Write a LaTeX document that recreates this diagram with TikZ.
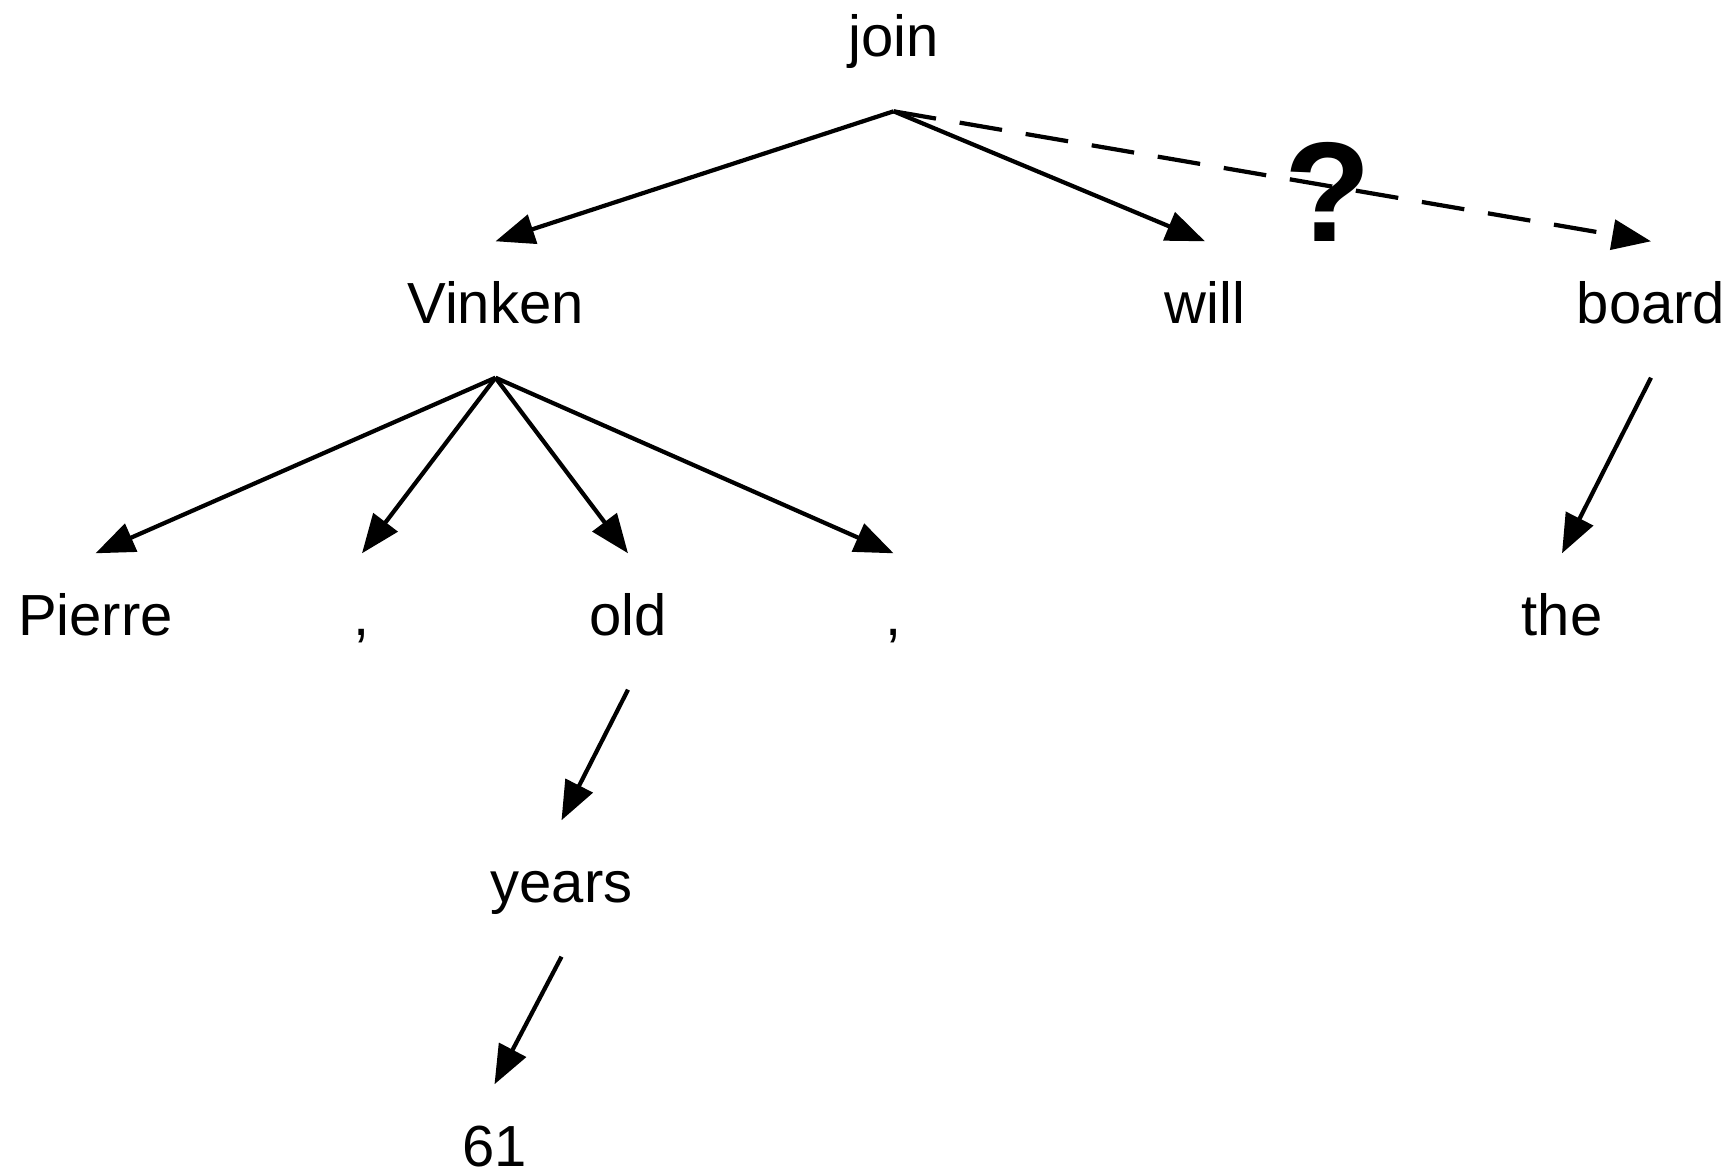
\documentclass[tikz,border=0pt]{standalone}
\usepackage{fontspec}
\setmainfont{Liberation Sans}
\usetikzlibrary{arrows.meta}

\begin{document}
\begin{tikzpicture}[
  word/.style={anchor=base,inner sep=0pt,text height=0.81cm,text depth=0.54cm,font=\fontsize{16.5}{20}\selectfont},
  dep/.style={-{Triangle[length=0.39cm,width=0.3cm]},line width=1.2pt},
  guess/.style={dep,dash pattern=on 0.43cm off 0.24cm}]
\useasboundingbox (0,0) rectangle (17.34,-11.72);

\node[word] (join) at (8.936,-0.566) {join};

\node[word] (vinken) at (4.955,-3.23) {Vinken};
\node[word] (will) at (12.05,-3.23) {will};
\node[word] (board) at (16.51,-3.23) {board};

\node[word] (pierre) at (0.955,-6.35) {Pierre};
\node[word] (comma1) at (3.62,-6.35) {,};
\node[word] (old) at (6.28,-6.35) {old};
\node[word] (comma2) at (8.936,-6.35) {,};
\node[word] (the) at (15.62,-6.35) {the};

\node[word] (years) at (5.615,-9.02) {years};
\node[word,text depth=0pt] (sixtyone) at (4.945,-11.66) {61};

\node[anchor=base,inner sep=0pt,font=\fontsize{40.4}{48}\selectfont\bfseries] (qmark) at (13.275,-2.417) {?};

\draw[dep] (join.south) -- (vinken.north);
\draw[dep] (join.south) -- (will.north);
\draw[guess] (join.south) -- (board.north);

\draw[dep] (vinken.south) -- (pierre.north);
\draw[dep] (vinken.south) -- (comma1.north);
\draw[dep] (vinken.south) -- (old.north);
\draw[dep] (vinken.south) -- (comma2.north);
\draw[dep] (board.south) -- (the.north);

\draw[dep] (old.south) -- (years.north);
\draw[dep] (years.south) -- (sixtyone.north);
\end{tikzpicture}
\end{document}
